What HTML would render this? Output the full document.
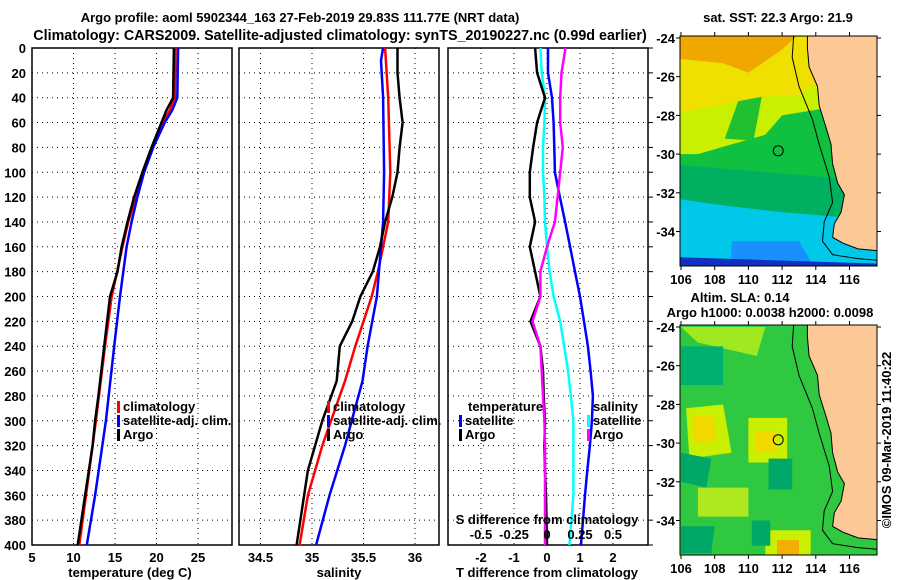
<!DOCTYPE html>
<html><head><meta charset="utf-8"><style>
body{margin:0;background:#fff;}
svg{display:block;font-family:"Liberation Sans",sans-serif;font-weight:bold;}
text{font-size:13px;fill:#000;}
</style></head><body>
<svg id="fig" width="900" height="580" viewBox="0 0 900 580" xmlns="http://www.w3.org/2000/svg">
<text x="300" y="22" text-anchor="middle" style="font-size:13px">Argo profile: aoml 5902344_163 27-Feb-2019 29.83S 111.77E (NRT data)</text>
<text x="340" y="40" text-anchor="middle" style="font-size:14.3px">Climatology: CARS2009. Satellite-adjusted climatology: synTS_20190227.nc (0.99d earlier)</text>
<g id="p1"></g>
<g id="p2"></g>
<g id="p3"></g>
<g id="m1"></g>
<g id="m2"></g>
<text x="778" y="22" text-anchor="middle">sat. SST: 22.3 Argo: 21.9</text>
<text x="740" y="302" text-anchor="middle">Altim. SLA: 0.14</text>
<text x="770" y="317" text-anchor="middle">Argo h1000: 0.0038 h2000: 0.0098</text>
<text x="0" y="0" text-anchor="middle" transform="translate(891,440) rotate(-90)">©IMOS 09-Mar-2019 11:40:22</text>
</svg>
<script>
// ---- data ----
const depthTicks=[0,20,40,60,80,100,120,140,160,180,200,220,240,260,280,300,320,340,360,380,400];
const tTicks=[5,10,15,20,25];
const sTicks=[34.5,35,35.5,36];
const tdTicks=[-2,-1,0,1,2];
const tdLabels=["-2","-1","0","1","2"];
const sdTicks=[-0.5,-0.25,0,0.25,0.5];
const sdLabels=["-0.5","-0.25","0","0.25","0.5"];

const tClimDepth=[0,40,50,60,80,100,120,140,160,200,240,300,360,400];
const tClim=[22.3,22.2,21.6,20.8,19.5,18.4,17.5,16.6,15.9,14.6,13.8,12.7,11.5,10.7];
const tSatDepth=[0,40,50,60,80,100,120,140,160,200,240,300,360,400];
const tSat=[22.6,22.5,21.9,21.0,19.6,18.5,17.7,17.0,16.4,15.6,14.9,13.9,12.6,11.6];
const tArgoDepth=[0,40,45,50,60,80,100,120,140,160,180,200,240,280,300,320,360,400];
const tArgo=[22.1,22.0,21.6,21.2,20.6,19.4,18.3,17.3,16.5,15.8,15.3,14.4,13.7,13.0,12.6,12.3,11.4,10.5];

const sClimDepth=[0,40,100,140,160,180,200,240,268,320,360,400];
const sClim=[35.71,35.74,35.76,35.74,35.69,35.64,35.58,35.42,35.32,35.10,34.96,34.88];
const sSatDepth=[0,10,40,100,140,160,200,240,268,320,360,400];
const sSat=[35.69,35.67,35.69,35.70,35.69,35.67,35.63,35.54,35.49,35.32,35.17,35.04];
const sArgoDepth=[0,20,40,60,80,100,120,140,160,180,200,220,240,268,300,340,400];
const sArgo=[35.83,35.83,35.85,35.88,35.85,35.83,35.78,35.71,35.66,35.59,35.47,35.39,35.27,35.24,35.10,34.96,34.85];

const dDepth=[0,20,40,60,80,100,120,140,160,180,200,220,240,260,280,300,320,340,360,400];
const dTArgo=[-0.36,-0.3,-0.06,-0.3,-0.42,-0.52,-0.52,-0.36,-0.52,-0.36,-0.2,-0.5,-0.2,-0.12,-0.1,-0.06,-0.08,-0.06,-0.03,0];
const dTSat=[0.03,0.03,0.15,0.2,0.22,0.24,0.39,0.55,0.7,0.85,1.0,1.12,1.24,1.32,1.39,1.36,1.3,1.22,1.15,1.03];
const dSArgo=[0.14,0.11,0.1,0.1,0.12,0.1,0.08,0.06,0,-0.05,-0.05,-0.11,-0.05,-0.04,-0.03,-0.02,-0.015,-0.015,-0.015,-0.015];
const dSSat=[-0.05,-0.04,-0.015,-0.02,-0.03,-0.03,-0.02,-0.015,0,0.02,0.05,0.1,0.13,0.16,0.18,0.2,0.2,0.2,0.2,0.17];

// ---- helpers ----
const NS="http://www.w3.org/2000/svg";
function mk(tag,attrs,parent,txt){const e=document.createElementNS(NS,tag);for(const k in attrs)e.setAttribute(k,attrs[k]);if(txt!==undefined)e.textContent=txt;parent.appendChild(e);return e;}
const Y0=48,Y1=545;
const yD=d=>Y0+d*(Y1-Y0)/400;
const xT=v=>32+(v-5)*8.3;
const xS=v=>312+(v-35)*103;
const xTD=v=>547+v*33;
const xSD=v=>547+v*132;

function panel(g,x0,x1,gridXs,leftLabels,rightTicks){
  depthTicks.forEach(d=>{
    const y=yD(d);
    if(d>0&&d<400){const l=mk('line',{x1:x0,x2:x1,y1:y,y2:y,stroke:'#000','stroke-width':1,'stroke-dasharray':'1,4'},g);
      }
    if(leftLabels){const t=mk('text',{x:x0-6,y:y+5,'text-anchor':'end'},g,String(d));
      }
    if(rightTicks){const l=mk('line',{x1:x1,x2:x1+5,y1:y,y2:y,stroke:'#000'},g);
      }
  });
  gridXs.forEach(x=>{const l=mk('line',{x1:x,x2:x,y1:Y0,y2:Y1,stroke:'#000','stroke-dasharray':'1,4'},g);
    });
  const r=mk('rect',{x:x0,y:Y0,width:x1-x0,height:Y1-Y0,fill:'none',stroke:'#000','stroke-width':1.5},g);
  
}
function line(g,depths,vals,xf,color,name,w){
  const pts=depths.map((d,i)=>xf(vals[i]).toFixed(1)+','+yD(d).toFixed(1)).join(' ');
  const p=mk('polyline',{points:pts,fill:'none',stroke:color,'stroke-width':w||2.5},g);
  
}
function legend(g,x,y,color,label,name,anchorRight){
  const b=mk('rect',{x:x,y:y-10,width:3,height:12,fill:color},g);
  
  const t=mk('text',{x:anchorRight?x+5:x+6,y:y},g,label);
  
}
function label(g,x,y,s,name,anchor){const t=mk('text',{x:x,y:y,'text-anchor':anchor||'middle'},g,s);
  return t;}

// ---- panel 1 ----
const p1=document.getElementById('p1');
panel(p1,32,232,tTicks.slice(1).map(xT),true,false);
tTicks.forEach(v=>label(p1,xT(v),562,String(v),'temperature-tick-label'));
label(p1,130,577,'temperature (deg C)','temperature-axis-title');
line(p1,tClimDepth,tClim,xT,'#f00','climatology-temperature-line');
line(p1,tSatDepth,tSat,xT,'#00f','satellite-temperature-line');
line(p1,tArgoDepth,tArgo,xT,'#000','argo-temperature-line');
legend(p1,117,411,'#f00','climatology','legend-climatology');
legend(p1,117,425,'#00f','satellite-adj. clim.','legend-satellite-adj');
legend(p1,117,439,'#000','Argo','legend-argo');

// ---- panel 2 ----
const p2=document.getElementById('p2');
panel(p2,239,439,sTicks.map(xS),false,false);
sTicks.forEach(v=>label(p2,xS(v),562,String(v),'salinity-tick-label'));
label(p2,339,577,'salinity','salinity-axis-title');
line(p2,sClimDepth,sClim,xS,'#f00','climatology-salinity-line');
line(p2,sSatDepth,sSat,xS,'#00f','satellite-salinity-line');
line(p2,sArgoDepth,sArgo,xS,'#000','argo-salinity-line');
legend(p2,327,411,'#f00','climatology','legend-climatology-2');
legend(p2,327,425,'#00f','satellite-adj. clim.','legend-satellite-adj-2');
legend(p2,327,439,'#000','Argo','legend-argo-2');

// ---- panel 3 ----
const p3=document.getElementById('p3');
panel(p3,448,648,tdTicks.map(xTD),false,true);
tdTicks.forEach((v,i)=>label(p3,xTD(v),562,tdLabels[i],'t-diff-tick-label'));
label(p3,547,577,'T difference from climatology','t-diff-axis-title');
line(p3,dDepth,dTSat,xTD,'#00f','satellite-t-diff-line');
line(p3,dDepth,dSSat,xSD,'#0ff','satellite-s-diff-line');
line(p3,dDepth,dTArgo,xTD,'#000','argo-t-diff-line');
line(p3,dDepth,dSArgo,xSD,'#f0f','argo-s-diff-line');
label(p3,547,524,'S difference from climatology','s-diff-axis-title');
sdTicks.forEach((v,i)=>label(p3,xSD(v),539,sdLabels[i],'s-diff-tick-label'));
label(p3,468,411,'temperature','legend-temperature-heading','start');
legend(p3,459,425,'#00f','satellite','legend-t-satellite');
legend(p3,459,439,'#000','Argo','legend-t-argo');
label(p3,593,411,'salinity','legend-salinity-heading','start');
legend(p3,587,425,'#0ff','satellite','legend-s-satellite');
legend(p3,587,439,'#f0f','Argo','legend-s-argo');

// ---- maps ----
const lonTicks=[106,108,110,112,114,116];
const latTicks=[-24,-26,-28,-30,-32,-34];
const coast=[[113.5,-23.7],[113.5,-24.5],[113.6,-25.5],[114.1,-26.5],[114.2,-27.5],[114.6,-28.6],[114.9,-29.5],[115.0,-30.5],[115.3,-31.5],[115.7,-32.1],[115.5,-33.0],[115.1,-33.6],[115.0,-34.3],[115.6,-34.6],[116.5,-34.9],[117.8,-35.0]];
const shelf=[[112.7,-23.7],[112.6,-25],[113.0,-26.5],[113.8,-28.2],[114.2,-29.5],[114.8,-31.2],[115.0,-32.5],[114.5,-33.5],[114.4,-34.5],[115.0,-35.2],[116.5,-35.4],[117.8,-35.5]];
function map(g,top,regions,floatLon,floatLat){
  const L=680,R=877,B=top+230;
  const lx=v=>681+(v-106)*16.85;
  const ly=v=>(top+2)+(-24-v)*19.35;
  const clipId='clip'+top;
  const cp=mk('clipPath',{id:clipId},g);mk('rect',{x:L,y:top,width:R-L,height:B-top},cp);
  const c=mk('g',{'clip-path':'url(#'+clipId+')'},g);
  regions.forEach(r=>{
    const pts=r.pts.map(p=>lx(p[0]).toFixed(1)+','+ly(p[1]).toFixed(1)).join(' ');
    const e=mk('polygon',{points:pts,fill:r.c},c);
    
  });
  const land=coast.map(p=>lx(p[0]).toFixed(1)+','+ly(p[1]).toFixed(1)).join(' ')+' '+lx(118)+','+ly(-36)+' '+lx(118)+','+ly(-23.7);
  const ld=mk('polygon',{points:land,fill:'#fcc896',stroke:'#000','stroke-width':1},c);
  
  const sh=mk('polyline',{points:shelf.map(p=>lx(p[0]).toFixed(1)+','+ly(p[1]).toFixed(1)).join(' '),fill:'none',stroke:'#000','stroke-width':1},c);
  
  const fc=mk('circle',{cx:lx(floatLon),cy:ly(floatLat),r:5,fill:'none',stroke:'#000','stroke-width':1},g);
  
  const fr=mk('rect',{x:L,y:top,width:R-L,height:B-top,fill:'none',stroke:'#000'},g);
  
  latTicks.forEach(v=>{const y=ly(v);mk('line',{x1:L-4,x2:L,y1:y,y2:y,stroke:'#000'},g);mk('line',{x1:R,x2:R+4,y1:y,y2:y,stroke:'#000'},g);
    label(g,L-5,y+5,String(v),'latitude-tick-label','end');});
  lonTicks.forEach(v=>{const x=lx(v);mk('line',{x1:x,x2:x,y1:B,y2:B+4,stroke:'#000'},g);mk('line',{x1:x,x2:x,y1:top-4,y2:top,stroke:'#000'},g);
    label(g,x,B+18,String(v),'longitude-tick-label');});
}
const sstRegions=[
 {c:'#00c8e8',pts:[[105,-23],[119,-23],[119,-37],[105,-37]]},
 {c:'#00b060',pts:[[105,-23],[119,-23],[119,-33.5],[112,-33],[108,-32.6],[105,-32.2]]},
 {c:'#10c040',pts:[[105,-23],[119,-23],[119,-31.5],[112,-31],[105,-30.5]]},
 {c:'#c8f000',pts:[[105,-23],[119,-23],[119,-27],[112,-28],[111,-29],[109,-29.5],[107,-30],[105,-30]]},
 {c:'#20c030',pts:[[109.5,-27],[110.8,-27],[110.3,-29.3],[108.6,-29.2]]},
 {c:'#f0e000',pts:[[105,-23],[119,-23],[113,-27],[111,-27],[108,-27.5],[105,-28]]},
 {c:'#f0a800',pts:[[105,-23],[114,-23],[112,-24.6],[110,-25.8],[108.5,-25.3],[105,-25]]},
 {c:'#1890ff',pts:[[109,-34.5],[113,-34.5],[114,-36],[109,-36]]},
 {c:'#1030c0',pts:[[105,-35.3],[119,-35.7],[119,-37],[105,-37]]}
];
const slaRegions=[
 {c:'#30c840',pts:[[105,-23],[119,-23],[119,-37],[105,-37]]},
 {c:'#a0e820',pts:[[106,-24],[111,-24],[110.5,-25.5],[107,-24.8]]},
 {c:'#00b070',pts:[[106,-25],[108.5,-25],[108.5,-27],[106,-27]]},
 {c:'#c8f000',pts:[[106.3,-28.2],[108.5,-28],[109,-30.5],[106.5,-30.8]]},
 {c:'#f0d800',pts:[[106.7,-28.6],[107.9,-28.6],[108.1,-29.9],[106.8,-30]]},
 {c:'#c8f000',pts:[[110,-28.7],[112.3,-28.7],[112.3,-31],[110,-31]]},
 {c:'#f0d800',pts:[[110.4,-29.4],[111.6,-29.4],[111.7,-30.4],[110.4,-30.5]]},
 {c:'#00a868',pts:[[111.2,-30.8],[112.6,-30.8],[112.6,-32.4],[111.2,-32.4]]},
 {c:'#00a868',pts:[[106,-30.5],[107.8,-30.8],[107.5,-32.3],[106,-32]]},
 {c:'#b0e820',pts:[[107,-32.3],[110,-32.3],[110,-33.8],[107,-33.8]]},
 {c:'#00a868',pts:[[106,-34.3],[108,-34.3],[107.8,-35.7],[106,-35.7]]},
 {c:'#c8f000',pts:[[111,-34.5],[113.7,-34.5],[113.7,-36],[111,-36]]},
 {c:'#f0b000',pts:[[111.7,-35],[113,-35],[113,-36],[111.7,-36]]},
 {c:'#00a868',pts:[[110.2,-34],[111.3,-34],[111.3,-35.3],[110.2,-35.3]]}
];
map(document.getElementById('m1'),36,sstRegions,111.77,-29.83);
map(document.getElementById('m2'),325,slaRegions,111.77,-29.83);
</script>
</body></html>
